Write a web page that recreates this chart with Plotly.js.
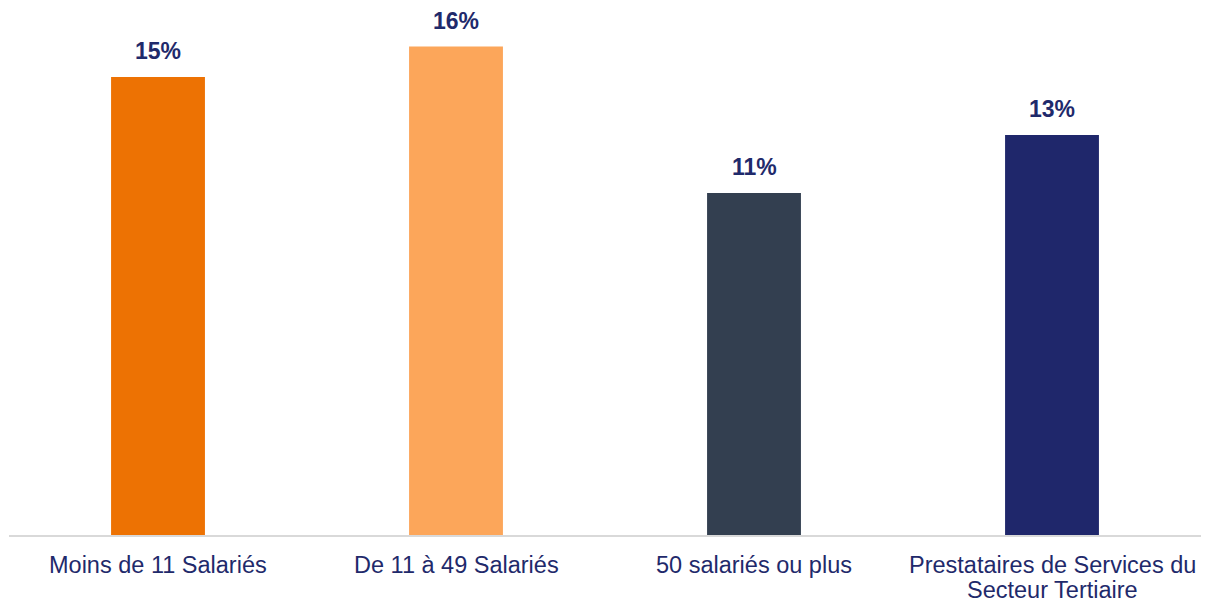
<!DOCTYPE html>
<html><head><meta charset="utf-8">
<script src="https://cdn.plot.ly/plotly-3.0.1.min.js"></script>
<style>html,body{margin:0;padding:0;background:#fff}#chart{width:1205px;height:603px}</style>
</head><body><div id="chart"></div>
<script>
const categories = ["Moins de 11 Salariés", "De 11 à 49 Salariés", "50 salariés ou plus", "Prestataires de Services du<br>Secteur Tertiaire"];
const values = [15.0, 16.0, 11.2, 13.1];
const labels = ["15%", "16%", "11%", "13%"];
const colors = ["#ED7203", "#FCA65A", "#333F50", "#1F276B"];

const FONT = "Liberation Sans, Arial, sans-serif";
const trace = {
  type: "bar", x: categories, y: values,
  marker: {color: colors}, hoverinfo: "skip"
};
const annotations = categories.map((c, i) => ({
  x: c, y: values[i], text: labels[i], showarrow: false,
  yanchor: "bottom", yshift: 11,
  font: {family: FONT, size: 23, color: "#1F2A6B", weight: "bold"}
}));
// category labels drawn line by line for tight line spacing
categories.forEach(c => {
  c.split("<br>").forEach((line, k) => {
    annotations.push({
      x: c, xref: "x", y: 0, yref: "paper", text: line, showarrow: false,
      yanchor: "middle", yshift: -30 - 25 * k,
      font: {family: FONT, size: 23.5, color: "#1F2A6B"}
    });
  });
});
const layout = {
  width: 1205, height: 603,
  margin: {l: 9, r: 4, t: 16, b: 68},
  paper_bgcolor: "#fff", plot_bgcolor: "#fff",
  bargap: 0.685, showlegend: false,
  xaxis: {
    showline: true, linecolor: "#d9d9d9", linewidth: 2,
    ticks: "", showticklabels: false
  },
  yaxis: {range: [0, 17], visible: false, showgrid: false, zeroline: false, fixedrange: true},
  annotations: annotations
};
Plotly.newPlot("chart", [trace], layout, {displayModeBar: false, staticPlot: true});
</script></body></html>
